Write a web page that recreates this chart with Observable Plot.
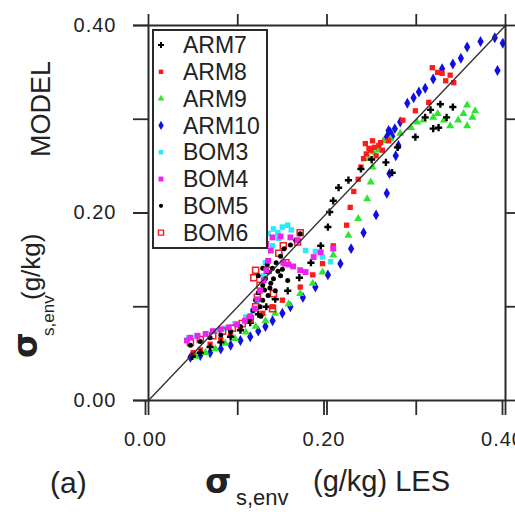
<!DOCTYPE html>
<html><head><meta charset="utf-8">
<script src="https://cdn.jsdelivr.net/npm/d3@7"></script>
<script src="https://cdn.jsdelivr.net/npm/@observablehq/plot@0.6"></script>
<style>body{margin:0;background:#fff;}</style>
</head><body><div id="chart"></div>
<script>
// ---- data (x = LES, y = MODEL, g/kg) ----
const seriesNames = ["ARM7","ARM8","ARM9","ARM10","BOM3","BOM4","BOM5","BOM6"];
const xTicksAll = [0, 0.1, 0.2, 0.3, 0.4];
const xTickLabels = [0, 0.2, 0.4];
const yTicksAll = [0, 0.1, 0.2, 0.3, 0.4];
const yTickLabels = [0, 0.2, 0.4];
const diagonal = [0, 0.4];

const arm7 = [[0.049,0.047],[0.058,0.051],[0.069,0.057],[0.081,0.062],[0.092,0.068],[0.103,0.075],[0.114,0.083],[0.123,0.092],[0.132,0.100],[0.142,0.108],[0.156,0.117],[0.169,0.131],[0.182,0.147],[0.193,0.165],[0.201,0.185],[0.203,0.201],[0.207,0.213],[0.213,0.227],[0.224,0.235],[0.238,0.247],[0.250,0.257],[0.266,0.254],[0.273,0.243],[0.279,0.270],[0.299,0.281],[0.310,0.302],[0.316,0.310],[0.319,0.290],[0.325,0.291],[0.327,0.316],[0.334,0.302],[0.341,0.313]];
const arm8 = [[0.050,0.051],[0.058,0.054],[0.069,0.060],[0.081,0.065],[0.092,0.070],[0.103,0.077],[0.114,0.085],[0.128,0.093],[0.139,0.100],[0.150,0.107],[0.170,0.121],[0.184,0.134],[0.195,0.146],[0.207,0.165],[0.222,0.187],[0.226,0.206],[0.230,0.223],[0.235,0.236],[0.238,0.249],[0.241,0.258],[0.244,0.263],[0.249,0.267],[0.253,0.270],[0.258,0.272],[0.247,0.269],[0.262,0.267],[0.243,0.274],[0.251,0.277],[0.260,0.275],[0.255,0.261],[0.269,0.277],[0.285,0.299],[0.299,0.309],[0.314,0.318],[0.318,0.355],[0.324,0.350],[0.329,0.349],[0.333,0.341],[0.338,0.347],[0.342,0.339]];
const arm9 = [[0.053,0.047],[0.064,0.051],[0.075,0.055],[0.086,0.061],[0.097,0.066],[0.109,0.073],[0.120,0.079],[0.131,0.085],[0.142,0.093],[0.157,0.103],[0.170,0.114],[0.184,0.125],[0.195,0.137],[0.207,0.155],[0.224,0.176],[0.235,0.194],[0.245,0.215],[0.249,0.233],[0.251,0.249],[0.247,0.258],[0.252,0.265],[0.258,0.267],[0.263,0.277],[0.271,0.279],[0.282,0.285],[0.294,0.291],[0.301,0.297],[0.308,0.299],[0.319,0.302],[0.324,0.306],[0.331,0.299],[0.338,0.293],[0.347,0.299],[0.357,0.293],[0.363,0.302],[0.366,0.309],[0.357,0.315],[0.353,0.306]];
const arm10 = [[0.047,0.046],[0.058,0.048],[0.069,0.051],[0.081,0.055],[0.092,0.059],[0.103,0.064],[0.114,0.068],[0.123,0.074],[0.131,0.079],[0.139,0.085],[0.150,0.093],[0.159,0.100],[0.173,0.110],[0.187,0.121],[0.201,0.134],[0.215,0.146],[0.227,0.162],[0.241,0.179],[0.255,0.198],[0.267,0.221],[0.270,0.242],[0.277,0.261],[0.280,0.272],[0.267,0.281],[0.271,0.286],[0.276,0.290],[0.269,0.288],[0.273,0.282],[0.282,0.297],[0.290,0.317],[0.297,0.323],[0.303,0.329],[0.310,0.333],[0.319,0.343],[0.329,0.354],[0.341,0.359],[0.350,0.365],[0.357,0.377],[0.372,0.383],[0.388,0.387],[0.397,0.381],[0.391,0.352]];
const bom3 = [[0.045,0.067],[0.054,0.069],[0.064,0.071],[0.075,0.074],[0.086,0.077],[0.097,0.082],[0.109,0.089],[0.117,0.096],[0.122,0.107],[0.125,0.117],[0.129,0.133],[0.131,0.147],[0.137,0.160],[0.139,0.165],[0.146,0.173],[0.140,0.183],[0.145,0.179],[0.150,0.185],[0.156,0.187],[0.160,0.182],[0.134,0.178],[0.176,0.160],[0.187,0.159],[0.195,0.153],[0.204,0.148]];
const bom4 = [[0.043,0.064],[0.047,0.067],[0.055,0.069],[0.064,0.071],[0.072,0.074],[0.081,0.076],[0.090,0.078],[0.099,0.081],[0.108,0.085],[0.114,0.090],[0.119,0.098],[0.122,0.108],[0.125,0.117],[0.129,0.128],[0.132,0.139],[0.134,0.149],[0.137,0.160],[0.132,0.167],[0.139,0.174],[0.148,0.175],[0.159,0.174],[0.167,0.171],[0.151,0.147],[0.157,0.145],[0.162,0.143],[0.170,0.139],[0.176,0.137],[0.185,0.153],[0.193,0.158],[0.207,0.162]];
const bom5 = [[0.047,0.059],[0.058,0.063],[0.069,0.067],[0.081,0.070],[0.092,0.074],[0.103,0.079],[0.112,0.085],[0.117,0.096],[0.120,0.107],[0.123,0.115],[0.128,0.123],[0.131,0.130],[0.123,0.133],[0.134,0.137],[0.139,0.141],[0.128,0.141],[0.143,0.147],[0.148,0.154],[0.152,0.162],[0.159,0.166],[0.165,0.171],[0.170,0.178],[0.137,0.125],[0.142,0.117],[0.148,0.133],[0.156,0.128],[0.128,0.107],[0.134,0.112],[0.125,0.100],[0.130,0.118],[0.136,0.120],[0.140,0.130],[0.145,0.138],[0.133,0.145],[0.150,0.140],[0.126,0.090]];
const bom6 = [[0.047,0.062],[0.058,0.065],[0.072,0.069],[0.083,0.074],[0.094,0.077],[0.105,0.082],[0.114,0.087],[0.120,0.100],[0.122,0.110],[0.125,0.123],[0.118,0.131],[0.120,0.139],[0.134,0.139],[0.146,0.157],[0.151,0.165],[0.167,0.169],[0.170,0.179],[0.140,0.114],[0.139,0.098],[0.154,0.147]];

// ---- styles ----
const styles = {
  ARM7:  {data: arm7,  symbol: "cross",    fill: "#000000", r: 3.0},
  ARM8:  {data: arm8,  symbol: "square",   fill: "#ff1a1a", r: 3.0},
  ARM9:  {data: arm9,  symbol: "triangle", fill: "#2ee62e", r: 3.0},
  ARM10: {data: arm10, symbol: "diamond",  fill: "#1010e6", r: 3.3},
  BOM3:  {data: bom3,  symbol: "square",   fill: "#2ee8f8", r: 3.1},
  BOM4:  {data: bom4,  symbol: "square",   fill: "#ee22ee", r: 3.3},
  BOM5:  {data: bom5,  symbol: "circle",   fill: "#000000", r: 2.5},
  BOM6:  {data: bom6,  symbol: "square",   stroke: "#ee2020", r: 3.4}
};
const drawOrder = ["ARM10","ARM9","ARM8","ARM7","BOM3","BOM6","BOM5","BOM4"];

const font = "Liberation Sans, Arial, sans-serif";
const axisCol = "#2a2a2a";

const dotMarks = drawOrder.map(name => {
  const s = styles[name];
  return Plot.dot(s.data, {
    x: d => d[0], y: d => d[1], symbol: s.symbol, r: s.r,
    fill: s.fill ?? "none", stroke: s.stroke ?? "none",
    strokeWidth: s.stroke ? 1.5 : 0
  });
});

const chart = Plot.plot({
  width: 515, height: 512,
  marginLeft: 148, marginRight: 10, marginTop: 25, marginBottom: 112,
  x: {domain: [0, 0.4]},
  y: {domain: [0, 0.4]},
  style: {fontFamily: font, fontSize: "20px", color: axisCol, background: "#fff"},
  marks: [
    ...dotMarks,
    Plot.line(diagonal, {x: d => d, y: d => d, stroke: "#333", strokeWidth: 1.4}),
    Plot.axisX({anchor: "bottom", ticks: xTicksAll, tickSize: 15, tickFormat: () => "", label: null, strokeWidth: 1.8}),
    Plot.axisX({anchor: "bottom", ticks: xTickLabels, tickSize: 15, tickPadding: 16, dx: -3, tickFormat: d => d.toFixed(2), label: null, strokeWidth: 1.8, fill: "#222"}),
    Plot.axisX({anchor: "top", ticks: xTicksAll, tickSize: 12, tickFormat: () => "", label: null, strokeWidth: 1.8}),
    Plot.axisY({anchor: "left", ticks: yTicksAll, tickSize: 15, tickFormat: () => "", label: null, strokeWidth: 1.8}),
    Plot.axisY({anchor: "left", ticks: yTickLabels, tickSize: 15, tickPadding: 17, tickFormat: d => d.toFixed(2), label: null, strokeWidth: 1.8, fill: "#222"}),
    Plot.axisY({anchor: "right", ticks: yTicksAll, tickSize: 12, tickFormat: () => "", label: null, strokeWidth: 1.8}),
    Plot.frame({stroke: axisCol, strokeWidth: 2})
  ]
});
document.getElementById("chart").appendChild(chart);
d3.select(chart).selectAll("[aria-label='x-axis tick label'] text, [aria-label='y-axis tick label'] text")
  .attr("letter-spacing", "1px");

// ---- legend and axis titles (chrome) ----
const svg = d3.select(chart);
const lg = svg.append("g").attr("text-anchor", "start");
lg.append("rect").attr("x", 153).attr("y", 30).attr("width", 114).attr("height", 218)
  .attr("fill", "#fff").attr("stroke", axisCol).attr("stroke-width", 2);
const symMap = {cross: d3.symbolCross, square: d3.symbolSquare, triangle: d3.symbolTriangle, diamond: d3.symbolDiamond, circle: d3.symbolCircle};
seriesNames.forEach((name, i) => {
  const s = styles[name];
  const cy = 45 + i * 26.8;
  lg.append("path")
    .attr("d", d3.symbol(symMap[s.symbol], Math.PI * s.r * s.r * 0.7)())
    .attr("transform", `translate(161,${cy})`)
    .attr("fill", s.fill ?? "none").attr("stroke", s.stroke ?? "none").attr("stroke-width", s.stroke ? 1.4 : 0);
  lg.append("text").attr("x", 183).attr("y", cy).attr("dy", "0.36em")
    .attr("font-family", font).attr("font-size", 23).attr("fill", "#222").text(name);
});

const t = svg.append("g").attr("font-family", font).attr("fill", "#222").attr("text-anchor", "start");
// x title
t.append("text").attr("x", 50).attr("y", 493).attr("font-size", 30).text("(a)");
t.append("text").attr("x", 205).attr("y", 493).attr("font-size", 34).attr("font-weight", "bold").attr("font-family", "DejaVu Sans, sans-serif").text("σ");
t.append("text").attr("x", 236).attr("y", 505).attr("font-size", 22).text("s,env");
t.append("text").attr("x", 313).attr("y", 491).attr("font-size", 29).text("(g/kg) LES");
// y title
t.append("text").attr("transform", "translate(37,358) rotate(-90)").attr("font-size", 33).attr("font-weight", "bold").attr("font-family", "DejaVu Sans, sans-serif").text("σ");
t.append("text").attr("transform", "translate(54,336) rotate(-90)").attr("font-size", 17).text("s,env");
t.append("text").attr("transform", "translate(40,300) rotate(-90)").attr("font-size", 26).text("(g/kg)");
t.append("text").attr("transform", "translate(50,157) rotate(-90)").attr("font-size", 27).text("MODEL");
</script>
</body></html>
